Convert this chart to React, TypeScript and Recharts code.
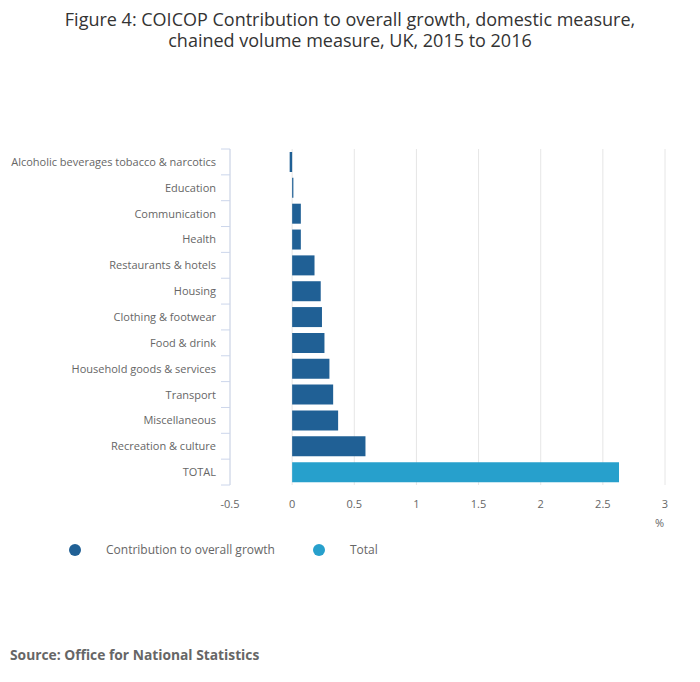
import { BarChart, Bar, XAxis, YAxis, CartesianGrid, Legend } from "recharts";

const categories = [
  "Alcoholic beverages tobacco & narcotics",
  "Education",
  "Communication",
  "Health",
  "Restaurants & hotels",
  "Housing",
  "Clothing & footwear",
  "Food & drink",
  "Household goods & services",
  "Transport",
  "Miscellaneous",
  "Recreation & culture",
  "TOTAL",
];

const contribution = [-0.02, 0.01, 0.07, 0.07, 0.18, 0.23, 0.24, 0.26, 0.3, 0.33, 0.37, 0.59, null];
const total = [null, null, null, null, null, null, null, null, null, null, null, null, 2.63];

const xTicks = [-0.5, 0, 0.5, 1, 1.5, 2, 2.5, 3];

const DARK = "#206095";
const LIGHT = "#27a0cc";
const FONT = "'Open Sans', sans-serif";

const data = categories.map((name, i) => ({
  name,
  contribution: contribution[i],
  total: total[i],
}));

const PLOT_TOP = 149;
const PLOT_BOTTOM = 485;
const AXIS_X = 230;
const BAND = (PLOT_BOTTOM - PLOT_TOP) / categories.length;

// category ticks sit on the band edges, like the original
const CategoryTick = (props: any) => {
  const { y, payload, index } = props;
  return (
    <g>
      <line x1={AXIS_X - 9} x2={AXIS_X} y1={y - BAND / 2} y2={y - BAND / 2} stroke="#ccd6eb" />
      {index === categories.length - 1 && (
        <line x1={AXIS_X - 9} x2={AXIS_X} y1={y + BAND / 2} y2={y + BAND / 2} stroke="#ccd6eb" />
      )}
      <text x={AXIS_X - 14} y={y} dy={4} textAnchor="end" fontSize={11} fill="#666666" fontFamily={FONT}>
        {payload.value}
      </text>
    </g>
  );
};

const LegendContent = () => (
  <div style={{ display: "flex", fontFamily: FONT, fontSize: 12, color: "#666666" }}>
    {[
      { label: "Contribution to overall growth", color: DARK, left: 69 },
      { label: "Total", color: LIGHT, left: 313 },
    ].map((item) => (
      <div key={item.label} style={{ position: "absolute", left: item.left, display: "flex", alignItems: "center" }}>
        <span style={{ width: 12, height: 12, borderRadius: 6, background: item.color, display: "inline-block" }} />
        <span style={{ marginLeft: 25 }}>{item.label}</span>
      </div>
    ))}
  </div>
);

const titleLine = (top: number) => ({
  position: "absolute" as const,
  top,
  left: 0,
  width: 700,
  textAlign: "center" as const,
  fontFamily: FONT,
  fontSize: 18,
  lineHeight: "20px",
  color: "#333333",
  whiteSpace: "nowrap" as const,
});

export default function App() {
  return (
    <div style={{ position: "absolute", left: 0, top: 0, width: 700, height: 682, background: "#fff" }}>
      <div style={titleLine(9)}>Figure 4: COICOP Contribution to overall growth, domestic measure,</div>
      <div style={titleLine(30)}>chained volume measure, UK, 2015 to 2016</div>
      <BarChart
        width={700}
        height={682}
        data={data}
        layout="vertical"
        margin={{ top: PLOT_TOP, right: 35, bottom: 0, left: 10 }}
        style={{ position: "absolute", left: 0, top: 0 }}
      >
        <CartesianGrid horizontal={false} stroke="#e6e6e6" />
        <XAxis
          type="number"
          domain={[-0.5, 3]}
          ticks={xTicks}
          axisLine={false}
          tickLine={false}
          height={197}
          tickMargin={9}
          tick={{ fontSize: 11, fill: "#666666", fontFamily: FONT }}
        />
        <YAxis
          type="category"
          dataKey="name"
          width={220}
          interval={0}
          axisLine={{ stroke: "#ccd6eb" }}
          tickLine={false}
          tick={<CategoryTick />}
        />
        <Legend
          verticalAlign="bottom"
          content={<LegendContent />}
          wrapperStyle={{ top: 541, left: 0, width: 700 }}
        />
        <Bar dataKey="contribution" stackId="a" fill={DARK} barSize={20} isAnimationActive={false} />
        <Bar dataKey="total" stackId="a" fill={LIGHT} barSize={20} isAnimationActive={false} />
      </BarChart>
      <div style={{ position: "absolute", left: 655, top: 515, fontFamily: FONT, fontSize: 11, color: "#666666" }}>%</div>
      <div
        style={{
          position: "absolute",
          left: 10,
          top: 645,
          fontFamily: FONT,
          fontSize: 13.8,
          fontWeight: 700,
          color: "#666666",
        }}
      >
        Source: Office for National Statistics
      </div>
    </div>
  );
}
